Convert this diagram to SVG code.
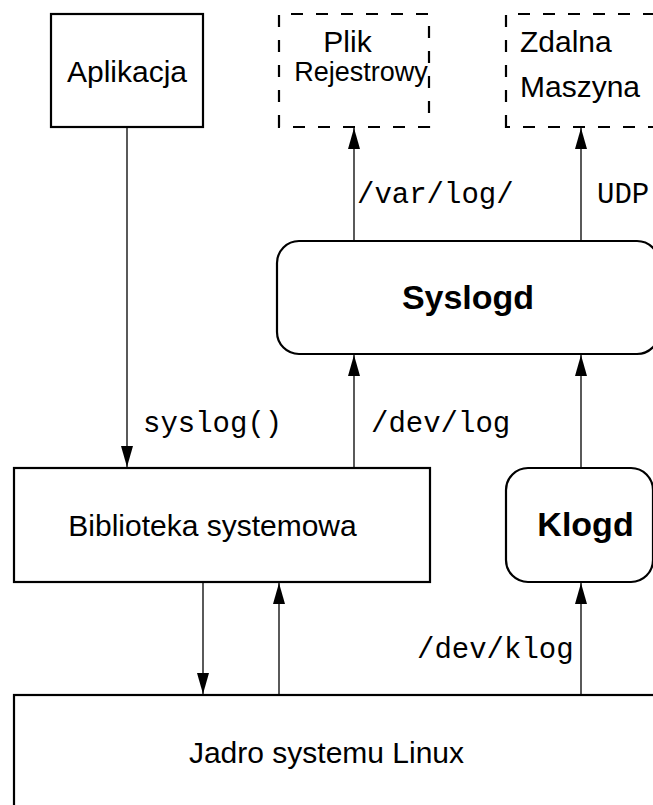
<svg xmlns="http://www.w3.org/2000/svg" width="653" height="805" viewBox="0 0 653 805">
  <style>
    .box { fill: #fff; stroke: #000; stroke-width: 2.2; }
    .dash { fill: #fff; stroke: #000; stroke-width: 2.2; stroke-dasharray: 12 13; }
    .conn { fill: none; stroke: #000; stroke-width: 1.3; marker-end: url(#head); }
    .lbl { font-family: "Liberation Sans", Arial, sans-serif; font-size: 30px; fill: #000; }
    .big { font-family: "Liberation Sans", Arial, sans-serif; font-size: 34px; font-weight: bold; fill: #000; }
    .mono { font-family: "Liberation Mono", "Courier New", monospace; font-size: 29px; fill: #000; }
  </style>
  <defs>
    <marker id="head" markerUnits="userSpaceOnUse" markerWidth="22" markerHeight="12" refX="21" refY="6" orient="auto" overflow="visible">
      <path d="M0,0 L21,6 L0,12 Z" fill="#000"/>
    </marker>
  </defs>
  <rect width="653" height="805" fill="#fff"/>

  <g id="connectors">
    <line class="conn" x1="127" y1="128" x2="127" y2="467"/>
    <line class="conn" x1="354" y1="240" x2="354" y2="128"/>
    <line class="conn" x1="581" y1="240" x2="581" y2="128"/>
    <line class="conn" x1="354" y1="467" x2="354" y2="355"/>
    <line class="conn" x1="581" y1="467" x2="581" y2="355"/>
    <line class="conn" x1="203" y1="583" x2="203" y2="694"/>
    <line class="conn" x1="279" y1="694" x2="279" y2="583"/>
    <line class="conn" x1="581" y1="694" x2="581" y2="583"/>
    <text class="mono" x="357" y="203">/var/log/</text>
    <text class="mono" x="597" y="203">UDP</text>
    <text class="mono" x="143" y="432">syslog()</text>
    <text class="mono" x="371" y="432">/dev/log</text>
    <text class="mono" x="417" y="658">/dev/klog</text>
  </g>

  <g id="aplikacja">
    <rect class="box" x="51" y="14" width="152" height="113"/>
    <text class="lbl" x="127" y="82" text-anchor="middle">Aplikacja</text>
  </g>

  <g id="plik">
    <path class="dash" d="M279,127 V14 H429 V127 Z"/>
    <text class="lbl" x="347.5" y="52" text-anchor="middle">Plik</text>
    <text class="lbl" x="361" y="81" text-anchor="middle" style="font-size:27px">Rejestrowy</text>
  </g>

  <g id="zdalna">
    <path class="dash" d="M506,127 V14 H670 V127 Z"/>
    <text class="lbl" x="520" y="52">Zdalna</text>
    <text class="lbl" x="520" y="97">Maszyna</text>
  </g>

  <g id="syslogd">
    <rect class="box" x="277" y="241" width="382" height="113" rx="22" ry="22"/>
    <text class="big" x="468" y="309" text-anchor="middle">Syslogd</text>
  </g>

  <g id="biblioteka">
    <rect class="box" x="14" y="468" width="416" height="114"/>
    <text class="lbl" x="212.5" y="536" text-anchor="middle">Biblioteka systemowa</text>
  </g>

  <g id="klogd">
    <rect class="box" x="506" y="468" width="147" height="114" rx="22" ry="22"/>
    <text class="big" x="585.5" y="536" text-anchor="middle">Klogd</text>
  </g>

  <g id="jadro">
    <rect class="box" x="14" y="695" width="660" height="130"/>
    <text class="lbl" x="326.5" y="763" text-anchor="middle">Jadro systemu Linux</text>
  </g>
</svg>
